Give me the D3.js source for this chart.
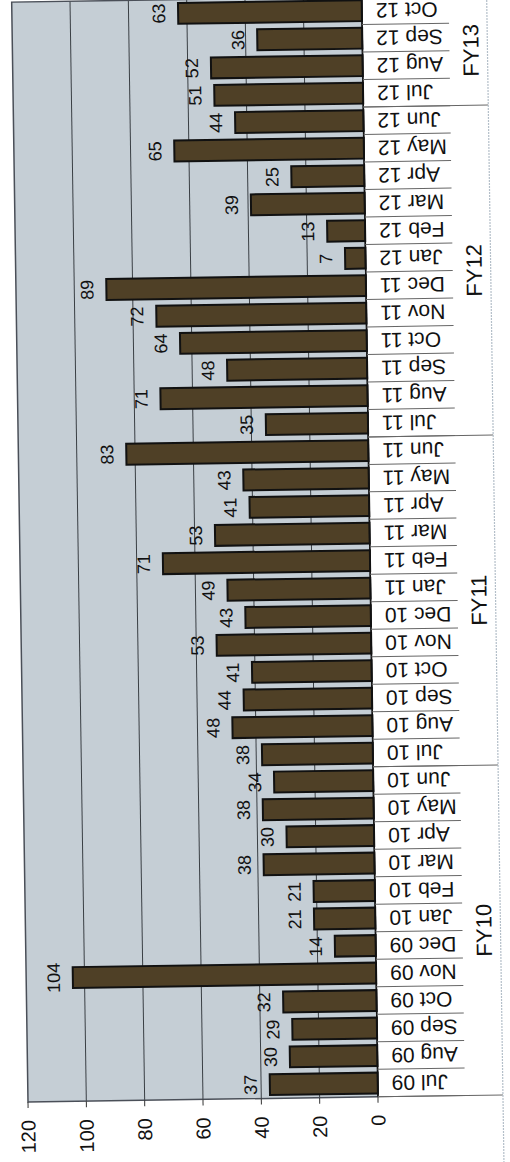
<!DOCTYPE html>
<html>
<head>
<meta charset="utf-8">
<script src="https://cdn.jsdelivr.net/npm/d3@7"></script>
<style>
    body { margin: 0; background: #fff; }
    svg text { font-family: "Liberation Sans", Arial, sans-serif; fill: #111; }
</style>
</head>
<body>
<div id="chart"></div>
<script>
// Monthly counts, Jul 09 -> Oct 12
const months = ["Jul 09", "Aug 09", "Sep 09", "Oct 09", "Nov 09", "Dec 09",
    "Jan 10", "Feb 10", "Mar 10", "Apr 10", "May 10", "Jun 10",
    "Jul 10", "Aug 10", "Sep 10", "Oct 10", "Nov 10", "Dec 10",
    "Jan 11", "Feb 11", "Mar 11", "Apr 11", "May 11", "Jun 11",
    "Jul 11", "Aug 11", "Sep 11", "Oct 11", "Nov 11", "Dec 11",
    "Jan 12", "Feb 12", "Mar 12", "Apr 12", "May 12", "Jun 12",
    "Jul 12", "Aug 12", "Sep 12", "Oct 12"];
const counts = [37, 30, 29, 32, 104, 14, 21, 21, 38, 30, 38, 34,
    38, 48, 44, 41, 53, 43, 49, 71, 53, 41, 43, 83,
    35, 71, 48, 64, 72, 89, 7, 13, 39, 25, 65, 44,
    51, 52, 36, 63];

// Fiscal year groups (number of months in each)
const fyLabels = ["FY10", "FY11", "FY12", "FY13"];
const fyMonths = [12, 12, 12, 4];

const yTicks = [0, 20, 40, 60, 80, 100, 120];

const W = 510, H = 1162;
const plotW = 1100;   // along categories (unrotated)
const plotH = 350;    // along values (unrotated)

const svg = d3.select("#chart")
    .append("svg")
    .attr("width", W)
    .attr("height", H);

// the scanned chart is turned on its side (and slightly askew)
const g = svg.append("g")
    .attr("transform", "translate(28,1102) rotate(-90.85)");

const x = d3.scaleBand()
    .domain(months)
    .range([0, plotW])
    .paddingInner(0.24)
    .paddingOuter(0.12);

const y = d3.scaleLinear()
    .domain([0, 120])
    .range([plotH, 0]);

// plot background
g.append("rect")
    .attr("x", 0).attr("y", 0)
    .attr("width", plotW).attr("height", plotH)
    .attr("fill", "#c5ced5");

// gridlines
g.selectAll(".grid")
    .data(yTicks.filter(d => d > 0 && d < 120))
    .join("line")
    .attr("x1", 0).attr("x2", plotW)
    .attr("y1", d => y(d)).attr("y2", d => y(d))
    .attr("stroke", "#3a3f44")
    .attr("stroke-width", 1);

// plot border
g.append("rect")
    .attr("x", 0).attr("y", 0)
    .attr("width", plotW).attr("height", plotH)
    .attr("fill", "none")
    .attr("stroke", "#4a4f58")
    .attr("stroke-width", 1.5);

// bars
g.selectAll(".bar")
    .data(months)
    .join("rect")
    .attr("x", d => x(d))
    .attr("y", (d, i) => y(counts[i]))
    .attr("width", x.bandwidth())
    .attr("height", (d, i) => y(0) - y(counts[i]))
    .attr("fill", "#4f4026")
    .attr("stroke", "#111")
    .attr("stroke-width", 2);

// value labels above each bar
g.selectAll(".val")
    .data(months)
    .join("text")
    .attr("x", d => x(d) + x.bandwidth() / 2)
    .attr("y", (d, i) => y(counts[i]) - 13)
    .attr("text-anchor", "middle")
    .style("font-size", "18px")
    .text((d, i) => counts[i]);

// value axis: ticks + labels
g.selectAll(".ytick")
    .data(yTicks)
    .join("line")
    .attr("x1", -6).attr("x2", 0)
    .attr("y1", d => y(d)).attr("y2", d => y(d))
    .attr("stroke", "#333");

g.selectAll(".ylab")
    .data(yTicks)
    .join("text")
    .attr("x", -18)
    .attr("y", d => y(d))
    .attr("dy", "0.35em")
    .attr("text-anchor", "end")
    .style("font-size", "20px")
    .text(d => d);

// category axis line
g.append("line")
    .attr("x1", 0).attr("x2", plotW)
    .attr("y1", plotH).attr("y2", plotH)
    .attr("stroke", "#111")
    .attr("stroke-width", 1.5);

// month separators
const step = x.step();
g.selectAll(".msep")
    .data(d3.range(months.length + 1))
    .join("line")
    .attr("x1", i => i * step).attr("x2", i => i * step)
    .attr("y1", plotH).attr("y2", plotH + 87)
    .attr("stroke", "#666")
    .attr("stroke-width", 1);

// month labels (rotated)
g.selectAll(".mlab")
    .data(months)
    .join("text")
    .attr("transform", d => `translate(${x(d) + x.bandwidth() / 2},${plotH + 14}) rotate(-90)`)
    .attr("dy", "0.35em")
    .attr("text-anchor", "end")
    .style("font-size", "21px")
    .text(d => d);

// fiscal year groups
const fyBounds = [0];
fyMonths.forEach(n => fyBounds.push(fyBounds[fyBounds.length - 1] + n));

g.selectAll(".fysep")
    .data(fyBounds)
    .join("line")
    .attr("x1", i => i * step).attr("x2", i => i * step)
    .attr("y1", plotH).attr("y2", plotH + 125)
    .attr("stroke", "#666")
    .attr("stroke-width", 1);

g.selectAll(".fylab")
    .data(fyLabels)
    .join("text")
    .attr("x", (d, i) => (fyBounds[i] + fyBounds[i + 1]) / 2 * step)
    .attr("y", plotH + 116)
    .attr("text-anchor", "middle")
    .style("font-size", "22px")
    .text(d => d);

// edge of the scanned page
g.append("line")
    .attr("x1", -80).attr("x2", plotW + 40)
    .attr("y1", plotH + 125).attr("y2", plotH + 125)
    .attr("stroke", "#b4bfc9")
    .attr("stroke-width", 1.2)
    .attr("stroke-dasharray", "2,1");
</script>
</body>
</html>
